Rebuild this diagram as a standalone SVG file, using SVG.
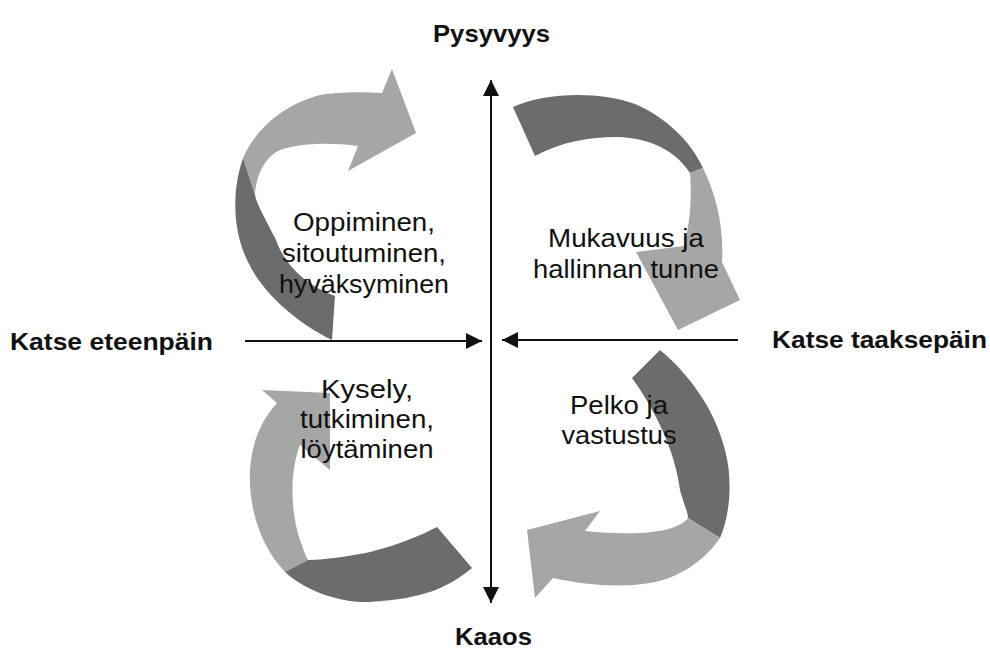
<svg xmlns="http://www.w3.org/2000/svg" width="990" height="650" viewBox="0 0 990 650">
<defs>
<style>
.light{fill:#a6a6a6}
.dark{fill:#6c6c6c}
.ax{stroke:#111;stroke-width:1.8;fill:none}
.lbl{font-family:"Liberation Sans",Arial,sans-serif;font-weight:bold;font-size:24px;fill:#111}
.txt{font-family:"Liberation Sans",Arial,sans-serif;font-size:26.5px;fill:#111;text-anchor:middle}
</style>
<marker id="ah" markerUnits="userSpaceOnUse" markerWidth="16" markerHeight="16" refX="16" refY="8" orient="auto">
<path d="M0,0 L16,8 L0,16 Z" fill="#111"/>
</marker>
</defs>
<rect width="990" height="650" fill="#fff"/>

<g id="arrow-tl">
<path class="light" d="M243,158 C255,130 285,102 325,94 C345,92 365,92 382,93 L392,69 L416,133 L348,171 L358,146 C330,142 300,143 280,150 C265,157 256,175 255,195 Z"/>
<path class="dark" d="M243,158 C232,190 232,230 248,262 C262,292 295,322 332,340 L335,296 C305,285 285,265 276,240 C266,220 257,205 255,195 Z"/>
</g>
<g id="arrow-tr">
<path class="dark" d="M513,107 C545,92 600,91 635,104 C665,117 690,140 703,168 L690,173 C675,150 650,138 617,137 C590,137 560,142 535,156 Z"/>
<path class="light" d="M703,168 C716,195 724,225 722,262 L740,300 L678,330 L636,252 L684,246 C690,225 692,195 690,173 Z"/>
</g>
<g id="arrow-br">
<path class="dark" d="M660,350 L632,378 C655,410 675,450 680,490 C684,505 688,512 688,518 L720,538 C730,515 733,480 725,450 C715,410 690,375 660,350 Z"/>
<path class="light" d="M720,538 C705,560 680,578 650,583 C620,588 585,585 553,578 L535,598 L527,530 L600,511 L585,531 C615,534 650,535 672,528 C680,525 685,522 688,518 Z"/>
</g>
<g id="arrow-bl">
<path class="light" d="M262,390 L330,393 L330,470 L300,445 C290,470 290,510 300,540 C303,548 305,555 308,560 L285,572 C262,548 248,510 250,470 C252,440 262,420 277,403 Z"/>
<path class="dark" d="M308,560 C320,560 347,557 370,552 C397,545 420,536 437,527 L472,568 C460,578 445,587 430,592 C410,598 397,600 370,602 C347,603 310,595 285,572 Z"/>
</g>

<g id="connectors">
<line class="ax" x1="491" y1="588" x2="491" y2="80" marker-end="url(#ah)"/>
<line class="ax" x1="491" y1="96" x2="491" y2="603" marker-end="url(#ah)"/>
<line class="ax" x1="245" y1="341" x2="482" y2="341" marker-end="url(#ah)"/>
<line class="ax" x1="738" y1="340" x2="502" y2="340" marker-end="url(#ah)"/>
</g>

<g id="axis-labels">
<text class="lbl" x="433" y="42" textLength="117" lengthAdjust="spacingAndGlyphs">Pysyvyys</text>
<text class="lbl" x="455" y="645" textLength="77" lengthAdjust="spacingAndGlyphs">Kaaos</text>
<text class="lbl" x="10" y="350" textLength="203" lengthAdjust="spacingAndGlyphs">Katse eteenpäin</text>
<text class="lbl" x="772" y="348" textLength="215" lengthAdjust="spacingAndGlyphs">Katse taaksepäin</text>
</g>

<g id="text-tl">
<text class="txt" x="364" y="231" textLength="142" lengthAdjust="spacingAndGlyphs">Oppiminen,</text>
<text class="txt" x="364" y="262" textLength="164" lengthAdjust="spacingAndGlyphs">sitoutuminen,</text>
<text class="txt" x="364" y="293" textLength="170" lengthAdjust="spacingAndGlyphs">hyväksyminen</text>
</g>
<g id="text-tr">
<text class="txt" x="626" y="247" textLength="156" lengthAdjust="spacingAndGlyphs">Mukavuus ja</text>
<text class="txt" x="626" y="278" textLength="186" lengthAdjust="spacingAndGlyphs">hallinnan tunne</text>
</g>
<g id="text-bl">
<text class="txt" x="367" y="398" textLength="92" lengthAdjust="spacingAndGlyphs">Kysely,</text>
<text class="txt" x="367" y="428" textLength="134" lengthAdjust="spacingAndGlyphs">tutkiminen,</text>
<text class="txt" x="367" y="458" textLength="133" lengthAdjust="spacingAndGlyphs">löytäminen</text>
</g>
<g id="text-br">
<text class="txt" x="619" y="414" textLength="98" lengthAdjust="spacingAndGlyphs">Pelko ja</text>
<text class="txt" x="619" y="444" textLength="115" lengthAdjust="spacingAndGlyphs">vastustus</text>
</g>
</svg>
